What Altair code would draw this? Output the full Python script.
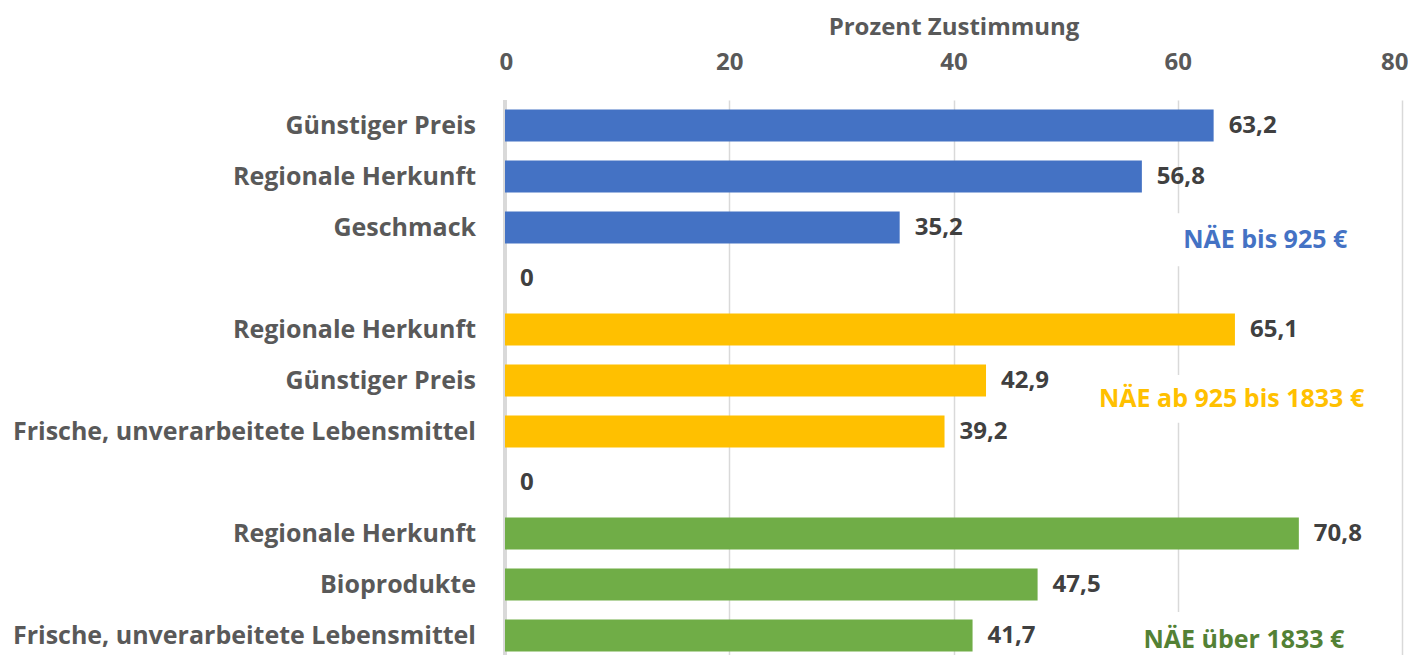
import altair as alt
import pandas as pd

categories = ["Günstiger Preis", "Regionale Herkunft", "Geschmack", "",
              "Regionale Herkunft", "Günstiger Preis", "Frische, unverarbeitete Lebensmittel", "",
              "Regionale Herkunft", "Bioprodukte", "Frische, unverarbeitete Lebensmittel"]
values = [63.2, 56.8, 35.2, 0, 65.1, 42.9, 39.2, 0, 70.8, 47.5, 41.7]
groups = ["g1", "g1", "g1", "gap", "g2", "g2", "g2", "gap", "g3", "g3", "g3"]

group_names = ["NÄE bis 925 €", "NÄE ab 925 bis 1833 €", "NÄE über 1833 €"]
group_bar_colors = ["#4472C4", "#FFC000", "#70AD47"]
group_text_colors = ["#4472C4", "#FFC000", "#538135"]
# annotation placement (x in %, y in row units)
ann_x = [67.8, 64.8, 65.9]
ann_y = [2.25, 5.36, 10.08]
box_x = [59.3, 51.6, 55.7]
box_x2 = [75.8, 77.8, 75.8]
box_y = [1.72, 4.89, 9.54]
box_y2 = [2.76, 5.83, 10.9]

FONT = "Open Sans"
W = "bold"

df = pd.DataFrame({
    "row": list(range(len(categories))),
    "cat": categories,
    "value": values,
    "group": groups,
})
df["label"] = [("0" if v == 0 else f"{v:.1f}".replace(".", ",")) for v in values]

ann = pd.DataFrame({
    "name": group_names, "color": group_text_colors,
    "x": ann_x, "y": ann_y, "bx": box_x, "bx2": box_x2, "by": box_y, "by2": box_y2,
})

xscale = alt.Scale(domain=[0, 80], nice=False, padding=0)
yscale = alt.Scale(domain=[-0.5, 10.382], reverse=True, nice=False, zero=False, padding=0)

xaxis = alt.Axis(orient="top", values=[0, 20, 40, 60, 80], title="Prozent Zustimmung",
                 titleFont=FONT, titleFontSize=24, titleFontWeight=W, titleColor="#595959",
                 labelFont=FONT, labelFontSize=24, labelFontWeight=W, labelColor="#595959",
                 labelPadding=26, titlePadding=11, domain=False, ticks=False,
                 grid=True, gridColor="#d9d9d9", gridWidth=1.5,
                 labelFlush=True, labelFlushOffset=6)

base = alt.Chart(df)

bars = base.transform_filter("datum.group != 'gap'").mark_bar(orient="horizontal", size=32).encode(
    x=alt.X("value:Q", scale=xscale, axis=xaxis),
    x2=alt.datum(0),
    y=alt.Y("row:Q", scale=yscale, axis=None),
    color=alt.Color("group:N", scale=alt.Scale(domain=["g1", "g2", "g3"], range=group_bar_colors), legend=None),
)

zero_rule = alt.Chart(pd.DataFrame({"x": [0]})).mark_rule(color="#d9d9d9", strokeWidth=4).encode(
    x=alt.X("x:Q", scale=xscale),
)

value_text = base.mark_text(align="left", baseline="middle", dx=15, font=FONT, fontSize=24,
                            fontWeight=W, color="#404040").encode(
    x=alt.X("value:Q", scale=xscale),
    y=alt.Y("row:Q", scale=yscale),
    text="label:N",
)

cat_text = base.mark_text(align="right", baseline="middle", font=FONT, fontSize=25,
                          fontWeight=W, color="#595959").encode(
    x=alt.value(-29),
    y=alt.Y("row:Q", scale=yscale),
    text="cat:N",
)

boxes = alt.Chart(ann).mark_rect(color="white").encode(
    x=alt.X("bx:Q", scale=xscale), x2="bx2:Q",
    y=alt.Y("by:Q", scale=yscale), y2="by2:Q",
)

ann_text = alt.Chart(ann).mark_text(align="center", baseline="middle", font=FONT, fontSize=25,
                                    fontWeight=W).encode(
    x=alt.X("x:Q", scale=xscale),
    y=alt.Y("y:Q", scale=yscale),
    text="name:N",
    color=alt.Color("color:N", scale=None),
)

chart = alt.layer(zero_rule, bars, boxes, value_text, cat_text, ann_text).properties(
    width=897, height=555,
    autosize=alt.AutoSizeParams(type="none"),
    padding={"left": 497, "top": 92, "right": 6, "bottom": 0},
).configure_view(stroke=None)

chart.save("out.html", embed_options={"renderer": "svg", "actions": False})
